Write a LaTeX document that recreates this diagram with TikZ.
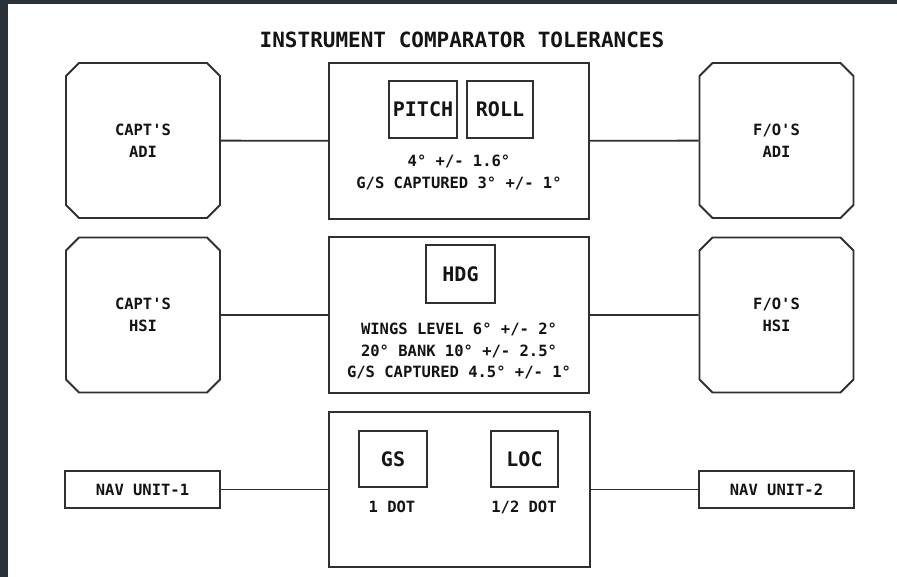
\documentclass[tikz,border=0pt]{standalone}
\usepackage{fontspec}
\setmonofont{DejaVu Sans Mono}
\usetikzlibrary{shapes.misc}
\definecolor{edge}{HTML}{303030}
\definecolor{ink}{HTML}{141414}
\definecolor{frame}{HTML}{2B3138}
\tikzset{
  unit/.style={draw=edge, line width=1.8pt, chamfered rectangle, chamfered rectangle xsep=6.5pt, chamfered rectangle ysep=6.5pt,
    minimum width=154pt, minimum height=155pt, inner sep=0pt, align=center, text=ink, font=\ttfamily\bfseries\fontsize{15.5}{22}\selectfont},
  panel/.style={draw=edge, line width=1.8pt, rectangle, minimum width=260pt, inner sep=0pt},
  tag/.style={draw=edge, line width=1.8pt, rectangle, inner sep=0pt, text=ink, font=\ttfamily\bfseries\fontsize{20}{24}\selectfont},
  nav/.style={draw=edge, line width=1.8pt, rectangle, minimum width=155pt, minimum height=37pt, inner sep=0pt, text=ink, font=\ttfamily\bfseries\fontsize{15.5}{20}\selectfont},
  txt/.style={inner sep=0pt, align=center, text=ink, font=\ttfamily\bfseries\fontsize{15.5}{22}\selectfont},
  link/.style={draw=edge, line width=1.8pt}
}
\begin{document}
\begin{tikzpicture}[x=1pt,y=-1pt]
\useasboundingbox (0,0) rectangle (897,577);
\fill[frame] (0,0) rectangle (897,577);
\fill[white] (8,4) rectangle (897,577);

\node[inner sep=0pt, text=ink, font=\ttfamily\bfseries\fontsize{21}{24}\selectfont] (title) at (462,40) {INSTRUMENT COMPARATOR TOLERANCES};

% row 1
\node[unit] (cadi) at (143,140.5) {CAPT\textquotesingle S\\ADI};
\node[unit] (fadi) at (776.5,140.5) {F/O\textquotesingle S\\ADI};
\node[panel, minimum height=156pt] (c1) at (459,141) {};
\node[tag, minimum width=68pt, minimum height=57pt] (pitch) at (423,109.5) {PITCH};
\node[tag, minimum width=66pt, minimum height=57pt] (roll) at (500,109.5) {ROLL};
\node[txt] (t1) at (459,172.5) {4° +/- 1.6°\\G/S CAPTURED 3° +/- 1°};
\draw[link] (cadi) -- (c1);
\draw[link] (c1) -- (fadi);

% row 2
\node[unit] (chsi) at (143,315) {CAPT\textquotesingle S\\HSI};
\node[unit] (fhsi) at (776.5,315) {F/O\textquotesingle S\\HSI};
\node[panel, minimum height=156pt] (c2) at (459,315) {};
\node[tag, minimum width=69pt, minimum height=58pt] (hdg) at (460.5,274) {HDG};
\node[txt, font=\ttfamily\bfseries\fontsize{15.5}{21.5}\selectfont] (t2) at (459,351) {WINGS LEVEL 6° +/- 2°\\20° BANK 10° +/- 2.5°\\G/S CAPTURED 4.5° +/- 1°};
\draw[link] (chsi) -- (c2);
\draw[link] (c2) -- (fhsi);

% row 3
\node[nav] (nav1) at (142.5,489.5) {NAV UNIT-1};
\node[nav] (nav2) at (776.5,489.5) {NAV UNIT-2};
\node[panel, minimum width=261pt, minimum height=155pt] (c3) at (459.5,489.5) {};
\node[tag, minimum width=68pt, minimum height=56pt] (gs) at (393,459) {GS};
\node[tag, minimum width=67pt, minimum height=56pt] (loc) at (524.5,459) {LOC};
\node[txt] (gsv) at (392,507) {1 DOT};
\node[txt] (locv) at (524,507) {1/2 DOT};
\draw[link] (nav1) -- (c3);
\draw[link] (c3) -- (nav2);
\end{tikzpicture}
\end{document}
